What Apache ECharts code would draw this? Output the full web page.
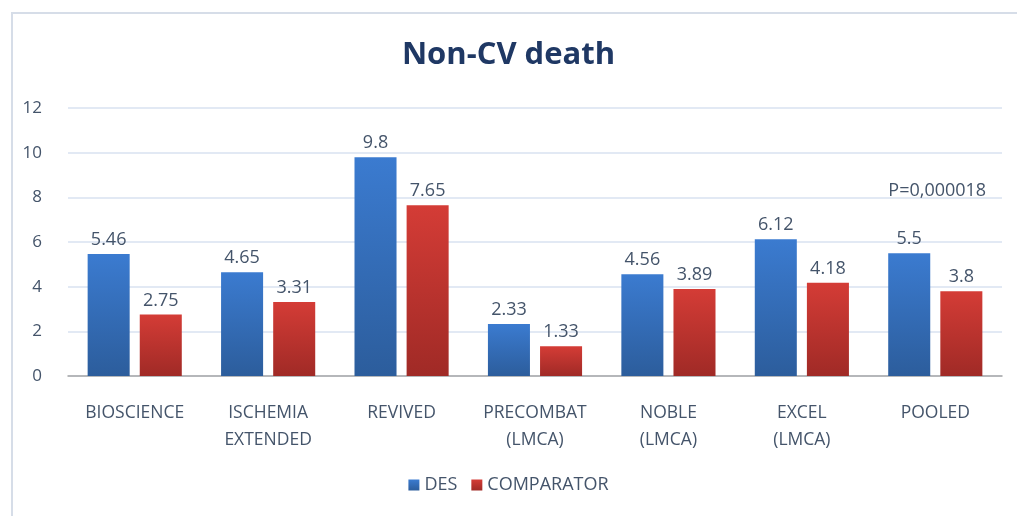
<!DOCTYPE html>
<html>
<head>
<meta charset="utf-8">
<script src="https://cdn.jsdelivr.net/npm/echarts@6/dist/echarts.min.js"></script>
<style>
  html, body { margin: 0; padding: 0; background: #fff; }
  #main { width: 1017px; height: 516px; }
</style>
</head>
<body>
<div id="main"></div>
<script>
// chart data
var categories = ['BIOSCIENCE', 'ISCHEMIA\nEXTENDED', 'REVIVED', 'PRECOMBAT\n(LMCA)', 'NOBLE\n(LMCA)', 'EXCEL\n(LMCA)', 'POOLED'];
var desValues = [5.46, 4.65, 9.8, 2.33, 4.56, 6.12, 5.5];
var comparatorValues = [2.75, 3.31, 7.65, 1.33, 3.89, 4.18, 3.8];
var yTicks = [0, 2, 4, 6, 8, 10, 12];
var pNote = 'P=0,000018';
var pNoteValue = 8.3;

var textColor = '#44546a';

function grad(top, bottom) {
    return new echarts.graphic.LinearGradient(0, 0, 0, 1, [
        { offset: 0, color: top },
        { offset: 1, color: bottom }
    ]);
}

var myChart = echarts.init(document.getElementById('main'));

var option = {
    backgroundColor: '#fff',
    animation: false,
    textStyle: { fontFamily: 'Open Sans' },
    title: {
        text: 'Non-CV death',
        left: 'center',
        top: 35,
        textStyle: { color: '#1f3864', fontSize: 31, fontWeight: 'bold', fontFamily: 'Open Sans' }
    },
    graphic: [{
        type: 'rect',
        shape: { x: 12, y: 13, width: 1040, height: 540 },
        style: { fill: 'none', stroke: '#d6dde8', lineWidth: 2 },
        silent: true
    }],
    legend: {
        bottom: 17,
        left: 'center',
        itemWidth: 11,
        itemHeight: 11,
        itemGap: 14,
        icon: 'rect',
        textStyle: { color: textColor, fontSize: 18, fontFamily: 'Open Sans' },
        data: ['DES', 'COMPARATOR']
    },
    grid: { left: 68, right: 15, top: 108, bottom: 140 },
    xAxis: {
        type: 'category',
        data: categories,
        axisLine: { lineStyle: { color: '#a6a6a6', width: 1.5 } },
        axisTick: { show: false },
        axisLabel: { color: textColor, fontSize: 17.5, margin: 24, lineHeight: 27, interval: 0 }
    },
    yAxis: {
        type: 'value',
        min: yTicks[0],
        max: yTicks[yTicks.length - 1],
        interval: 2,
        axisLine: { show: false },
        axisTick: { show: false },
        axisLabel: { color: textColor, fontSize: 17, margin: 26 },
        splitLine: { lineStyle: { color: '#d9e2f0', width: 1.5 } }
    },
    series: [
        {
            name: 'DES',
            type: 'bar',
            data: desValues,
            barWidth: '31.5%',
            barGap: '24%',
            itemStyle: { color: grad('#3b7bd0', '#2c5d9c') },
            label: { show: true, position: 'top', distance: 5, color: textColor, fontSize: 18 },
            markPoint: {
                symbol: 'rect',
                symbolSize: 1,
                itemStyle: { color: 'transparent' },
                label: { show: true, formatter: pNote, color: textColor, fontSize: 18, offset: [28, 0] },
                data: [{ coord: [categories.length - 1, pNoteValue] }]
            }
        },
        {
            name: 'COMPARATOR',
            type: 'bar',
            data: comparatorValues,
            barWidth: '31.5%',
            itemStyle: { color: grad('#d43c36', '#a02a26') },
            label: { show: true, position: 'top', distance: 5, color: textColor, fontSize: 18 }
        }
    ]
};

myChart.setOption(option);
</script>
</body>
</html>
